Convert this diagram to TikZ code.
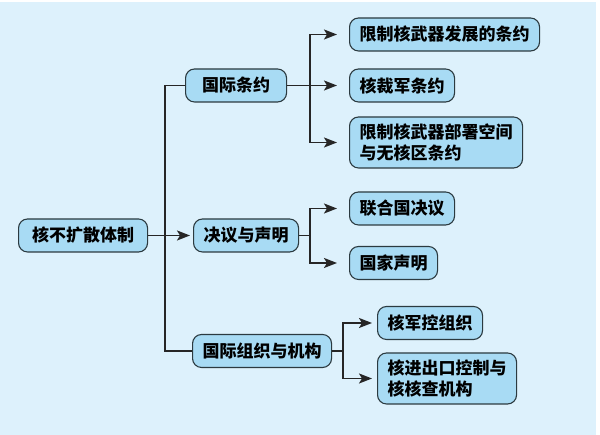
\documentclass[tikz,border=0pt]{standalone}
\usepackage{fontspec}
\setmainfont{Noto Sans CJK SC}
\usepackage{tikz}
\usetikzlibrary{arrows.meta,positioning,calc}
\definecolor{bgblue}{HTML}{DDF1FC}
\definecolor{boxblue}{HTML}{A8DBF4}
\definecolor{boxline}{HTML}{2B3A40}
\tikzset{
box/.style = {draw=boxline, fill=boxblue, rectangle, rounded corners=9pt, line width=1.1pt,
  anchor=west, inner xsep=10pt, inner ysep=2pt, minimum height=33pt, align=left,
  font=\fontsize{17}{21}\selectfont\bfseries},
twoline/.style = {minimum height=51pt},
tmp/.style = {coordinate},
link/.style = {draw=black!85, line width=1.8pt}
}
\begin{document}
\begin{tikzpicture}[x=1pt, y=1pt, >={Stealth[length=13pt,width=10pt,inset=3pt]}]
  \useasboundingbox (0,0) rectangle (600,435);
  \fill [white] (0,0) rectangle (600,435);
  \fill [bgblue] (0,0) rectangle (596,433);

  \node [box, minimum width=129pt] at (18,199.5)    (root)    {核不扩散体制};
  \node [box, minimum width=101pt] at (185,349.5)   (treaty)  {国际条约};
  \node [box] at (193,199.5)                        (resol)   {决议与声明};
  \node [box] at (192,84)                           (organ)   {国际组织与机构};
  \node [box] at (349,400.5)                        (limdev)  {限制核武器发展的条约};
  \node [box] at (349,349.5)                        (disarm)  {核裁军条约};
  \node [box, twoline, minimum width=170pt] at (349,292.5) (limdep) {限制核武器部署空间\\与无核区条约};
  \node [box] at (349,226.5)                        (unres)   {联合国决议};
  \node [box] at (349,172)                          (state)   {国家声明};
  \node [box] at (377,112)                          (armctl)  {核军控组织};
  \node [box, twoline] at (377,56.5)                (export)  {核进出口控制与\\核核查机构};
  \node [tmp] at (165,199.5)                        (tmp1)    {};
  \node [tmp] at (310,349.5)                        (tmp2)    {};
  \node [tmp] at (310,199.5)                        (tmp3)    {};
  \node [tmp] at (343,84)                           (tmp4)    {};

  \draw [link, ->, shorten >=3pt] (root) -- (resol);
  \draw [link] (tmp1) |- (treaty);
  \draw [link] (tmp1) |- (organ);
  \draw [link, ->, shorten >=12pt] (treaty) -- (disarm);
  \draw [link, ->, shorten >=12pt] (tmp2) |- (limdev);
  \draw [link, ->, shorten >=12pt] (tmp2) |- (limdep);
  \draw [link] (resol) -- (tmp3);
  \draw [link, ->, shorten >=12pt] (tmp3) |- (unres);
  \draw [link, ->, shorten >=12pt] (tmp3) |- (state);
  \draw [link] (organ) -- (tmp4);
  \draw [link, ->, shorten >=5pt] (tmp4) |- (armctl);
  \draw [link, ->, shorten >=5pt] (tmp4) |- (export);
\end{tikzpicture}
\end{document}
